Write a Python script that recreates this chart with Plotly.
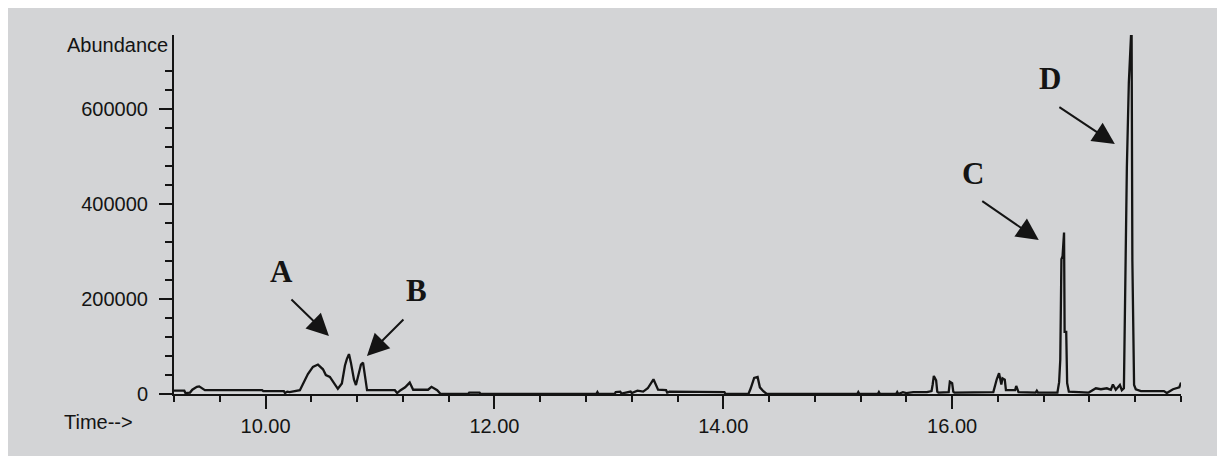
import plotly.graph_objects as go

# ---- data ----
time_min = [
    9.20, 9.29, 9.30, 9.34, 9.36, 9.40, 9.42, 9.45, 9.47, 9.97, 9.98, 10.16, 10.17, 10.19, 10.21,
    10.30, 10.335, 10.37, 10.414, 10.458, 10.502, 10.527, 10.562, 10.597, 10.632, 10.667, 10.694,
    10.711, 10.729, 10.746, 10.773, 10.790, 10.816, 10.834, 10.852, 10.869, 10.887,
    11.13, 11.15, 11.18, 11.22, 11.26, 11.29, 11.42, 11.45, 11.50, 11.53,
    11.77, 11.78, 11.87, 11.88, 12.89, 12.90, 12.91, 13.05, 13.06, 13.10, 13.11, 13.19, 13.20,
    13.25, 13.30, 13.34, 13.39, 13.43, 13.50, 13.51, 13.53, 13.56, 13.99, 14.01, 14.02,
    14.22, 14.24, 14.27, 14.30, 14.32, 14.35, 14.37, 14.38,
    15.17, 15.18, 15.19, 15.35, 15.36, 15.37, 15.51, 15.52, 15.53, 15.57, 15.60, 15.66, 15.78,
    15.82, 15.83, 15.84, 15.86, 15.87, 15.88, 15.97, 15.98, 16.00, 16.01, 16.02,
    16.36, 16.37, 16.39, 16.41, 16.43, 16.44, 16.46, 16.47, 16.55, 16.56, 16.58,
    16.73, 16.74, 16.75, 16.92, 16.935, 16.945, 16.955, 16.965, 16.978, 16.983, 16.997, 17.005, 17.02,
    17.194, 17.256, 17.30, 17.352, 17.387, 17.405, 17.43, 17.466, 17.483, 17.501,
    17.509, 17.527, 17.544, 17.568, 17.575, 17.59, 17.605, 17.65, 17.851, 17.876, 17.93, 17.965, 17.985, 18.00,
]
abundance = [
    7000, 7000, 2000, 3000, 9000, 15000, 16000, 10000, 8000, 8000, 6000, 6000, 2000, 5000, 4000,
    8000, 25000, 42000, 57000, 62000, 52000, 40000, 36000, 24000, 11000, 22000, 60000,
    74000, 84000, 66000, 30000, 19000, 45000, 62000, 66000, 40000, 8000,
    8000, 2000, 8000, 14000, 24000, 9000, 9000, 15000, 8000, 0,
    0, 3000, 3000, 0, 0, 4000, 0, 0, 4000, 5000, 1000, 5000, 2000,
    7000, 5000, 12000, 31000, 9000, 8000, 3000, 5000, 5000, 5000, 4000, 0,
    0, 12000, 34000, 36000, 14000, 6000, 2000, 0,
    0, 4000, 0, 0, 4000, 0, 0, 4000, 0, 4000, 2000, 4000, 4000,
    6000, 20000, 38000, 29000, 5000, 3000, 4000, 26000, 23000, 5000, 3000,
    4000, 15000, 31000, 44000, 20000, 33000, 30000, 8000, 8000, 17000, 4000,
    3000, 7000, 3000, 3000, 25000, 72000, 284000, 290000, 340000, 131000, 131000, 23000, 5000,
    3000, 12000, 10000, 12000, 9000, 20000, 9000, 19000, 8000, 12000,
    163000, 478000, 655000, 780000, 280000, 19000, 10000, 6000, 6000, 2000, 10000, 12000, 14000, 24000,
]

x_tick_vals = [10, 12, 14, 16, 18]
x_tick_text = ["10.00", "12.00", "14.00", "16.00", ""]
x_minor_vals = [round(9.2 + 0.4 * i, 2) for i in range(23)]
y_tick_vals = [0, 200000, 400000, 600000]
y_tick_text = ["0", "200000", "400000", "600000"]
y_minor_vals = [40000 * i for i in range(18)]

peak_labels = ["A", "B", "C", "D"]
label_x = [10.143, 11.315, 16.180, 16.853]
label_y = [259000, 219000, 465300, 665300]
arrow_tip_x = [10.554, 10.886, 16.757, 17.422]
arrow_tip_y = [122100, 80000, 324200, 526300]
arrow_dx = [-39, 38, -58, -57]
arrow_dy = [-38, -38, -40, -38]

BG = "#d3d4d6"
INK = "#141414"
SANS = "Liberation Sans, Arial, sans-serif"

fig = go.Figure()
fig.add_trace(go.Scatter(
    x=time_min, y=abundance, mode="lines",
    line=dict(color=INK, width=2.3), hoverinfo="skip", showlegend=False,
))

annotations = []
for t, xx, yy in zip(peak_labels, label_x, label_y):
    annotations.append(dict(
        x=xx, y=yy, xref="x", yref="y", text="<b>" + t + "</b>", showarrow=False,
        font=dict(family="Liberation Serif, Times New Roman, serif", size=31, color=INK),
        xanchor="center", yanchor="middle",
    ))
for xx, yy, dx, dy in zip(arrow_tip_x, arrow_tip_y, arrow_dx, arrow_dy):
    annotations.append(dict(
        x=xx, y=yy, xref="x", yref="y", text="", showarrow=True,
        ax=dx, ay=dy, arrowhead=2, arrowsize=2.2, arrowwidth=2, arrowcolor=INK, standoff=0,
    ))
annotations.append(dict(
    x=-0.004, y=0.9708, xref="paper", yref="paper", text="Abundance", showarrow=False,
    xanchor="right", yanchor="middle", font=dict(family=SANS, size=20, color=INK),
))
annotations.append(dict(
    x=-0.1112, y=-0.078, xref="paper", yref="paper", text="Time-->", showarrow=False,
    xanchor="left", yanchor="middle", font=dict(family=SANS, size=20, color=INK),
))

fig.update_layout(
    width=1225, height=456,
    margin=dict(l=166, r=52, t=27, b=70),
    paper_bgcolor=BG, plot_bgcolor=BG,
    annotations=annotations,
    xaxis=dict(
        range=[9.2, 18.0], showgrid=False, zeroline=False,
        showline=True, linecolor=INK, linewidth=2,
        ticks="outside", tickmode="array", tickvals=x_tick_vals, ticktext=x_tick_text,
        ticklen=13, tickwidth=2, tickcolor=INK, ticklabelstandoff=0,
        tickfont=dict(family=SANS, size=20, color=INK),
        minor=dict(tickmode="array", tickvals=x_minor_vals, ticks="outside",
                   ticklen=6, tickwidth=2, tickcolor=INK, showgrid=False),
    ),
    yaxis=dict(
        range=[0, 756000], showgrid=False, zeroline=False,
        showline=True, linecolor=INK, linewidth=2,
        ticks="outside", tickmode="array", tickvals=y_tick_vals, ticktext=y_tick_text,
        ticklen=13, tickwidth=2, tickcolor=INK, ticklabelstandoff=7,
        tickfont=dict(family=SANS, size=20, color=INK),
        minor=dict(tickmode="array", tickvals=y_minor_vals, ticks="outside",
                   ticklen=7, tickwidth=2, tickcolor=INK, showgrid=False),
    ),
)

fig.write_html("out.html")
